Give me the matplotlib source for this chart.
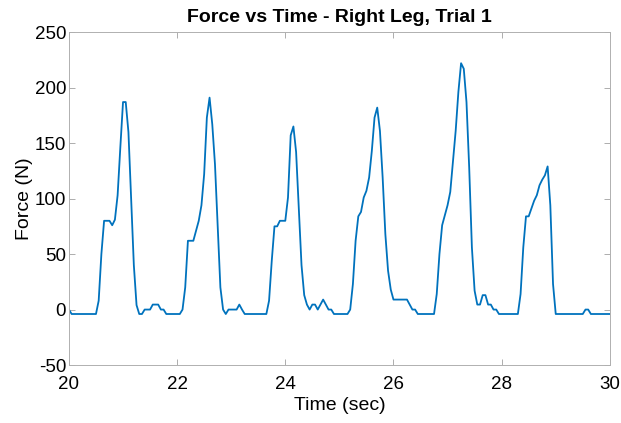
import numpy as np
import matplotlib
matplotlib.use("Agg")
import matplotlib.pyplot as plt

# force samples at 20 Hz, starting at t = 20 s
force = [
    0, -4, -4, -4, -4, -4, -4, -4, -4, -4, -4,          # 20.00 - 20.50
    8, 50, 80, 80, 80, 76, 81, 103, 146, 187,            # 20.55 - 21.00
    187, 160, 100, 40, 4, -4, -4, 0, 0, 0,               # 21.05 - 21.50
    4.5, 4.5, 4.5, 0, 0, -4, -4, -4, -4, -4,             # 21.55 - 22.00
    -4, 0, 20, 62, 62, 62, 71, 80, 94, 122,              # 22.05 - 22.50
    173, 191, 167, 131, 75, 20, 0, -4, 0, 0,             # 22.55 - 23.00
    0, 0, 4.5, 0, -4, -4, -4, -4, -4, -4,                # 23.05 - 23.50
    -4, -4, -4, 8, 44, 75, 75, 80, 80, 80,               # 23.55 - 24.00
    101, 157, 165, 142, 90, 40, 13, 4.5, 0, 4.5,         # 24.05 - 24.50
    4.5, 0, 4.5, 9, 4.5, 0, 0, -4, -4, -4,               # 24.55 - 25.00
    -4, -4, -4, 0, 23, 62, 84, 88, 101, 107,             # 25.05 - 25.50
    119, 143, 173, 182, 161, 119, 68, 35, 18, 9,         # 25.55 - 26.00
    9, 9, 9, 9, 9, 4.5, 0, 0, -4, -4,                    # 26.05 - 26.50
    -4, -4, -4, -4, -4, 14, 50, 76, 85, 94,              # 26.55 - 27.00
    106, 134, 161, 196, 222, 217, 187, 128, 56, 17,      # 27.05 - 27.50
    4.5, 4.5, 13, 13, 4.5, 4.5, 0, 0, -4, -4,            # 27.55 - 28.00
    -4, -4, -4, -4, -4, -4, 14, 56, 84, 84,              # 28.05 - 28.50
    91, 98, 103, 112, 117, 121, 129, 94, 23, -4,         # 28.55 - 29.00
    -4, -4, -4, -4, -4, -4, -4, -4, -4, -4,              # 29.05 - 29.50
    0, 0, -4, -4, -4, -4, -4, -4, -4, -4,                # 29.55 - 30.00
]
time = 20 + 0.05 * np.arange(len(force))

x_ticks = [20, 22, 24, 26, 28, 30]
y_ticks = [-50, 0, 50, 100, 150, 200, 250]

plt.rcParams['font.family'] = ['Liberation Sans', 'DejaVu Sans']
plt.rcParams['axes.unicode_minus'] = False

fig = plt.figure(figsize=(6.21, 4.23), dpi=100)
ax = fig.add_axes([0.111, 0.137, 0.871, 0.787])
ax.plot(time, force, color='#0072BD', linewidth=1.3)

ax.set_xlim(20, 30)
ax.set_ylim(-50, 250)
ax.set_xticks(x_ticks)
ax.set_yticks(y_ticks)
ax.tick_params(direction='in', top=True, right=True, length=4, width=0.6,
               color='#a0a0a0', labelsize=13.5)
ax.tick_params(axis='x', pad=8)
ax.tick_params(axis='y', pad=2)
for s in ax.spines.values():
    s.set_color('#b0b0b0')
    s.set_linewidth(0.7)

ax.set_xlabel('Time (sec)', fontsize=14, labelpad=3)
ax.set_ylabel('Force (N)', fontsize=14, labelpad=1)
ax.set_title('Force vs Time - Right Leg, Trial 1', fontsize=14, fontweight='bold', pad=7)

fig.savefig('out.png', dpi=100)
